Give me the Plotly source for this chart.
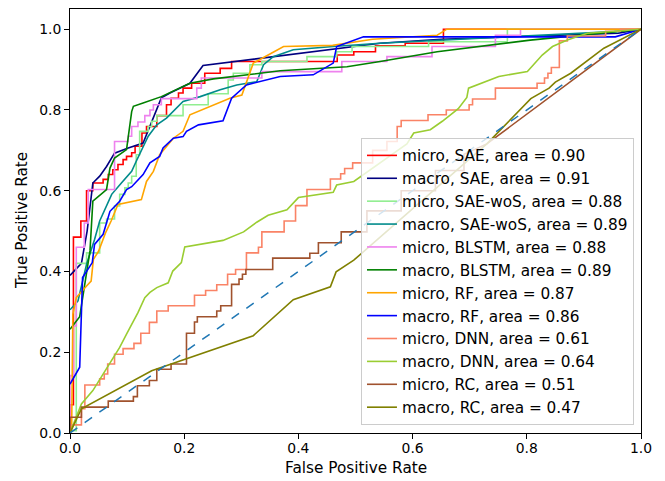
import plotly.graph_objects as go

# ---- micro (step) curves: corner points, drawn with 'vh' steps ----
fpr_micro_sae = [0, 0.006, 0.019, 0.029, 0.04, 0.058, 0.067, 0.075, 0.084, 0.093, 0.099, 0.108, 0.114, 0.126, 0.134,
                 0.152, 0.169, 0.177, 0.19, 0.198, 0.213, 0.236, 0.263, 0.283, 0.468, 0.497, 0.535, 0.587, 0.654, 1.0]
tpr_micro_sae = [0, 0.07, 0.485, 0.525, 0.6, 0.619, 0.628, 0.64, 0.652, 0.665, 0.677, 0.685, 0.694, 0.71, 0.743,
                 0.759, 0.786, 0.813, 0.829, 0.842, 0.854, 0.866, 0.891, 0.903, 0.92, 0.936, 0.944, 0.959, 0.965, 1.0]

fpr_micro_woS = [0, 0.011, 0.029, 0.052, 0.064, 0.078, 0.087, 0.096, 0.102, 0.108, 0.116, 0.122, 0.137, 0.143,
                 0.152, 0.198, 0.242, 0.277, 0.286, 0.315, 0.336, 0.415, 0.467, 0.494, 0.628, 0.766, 1.0]
tpr_micro_woS = [0, 0.006, 0.42, 0.446, 0.52, 0.53, 0.562, 0.591, 0.607, 0.619, 0.636, 0.689, 0.747, 0.759,
                 0.772, 0.786, 0.813, 0.84, 0.874, 0.891, 0.912, 0.92, 0.932, 0.944, 0.957, 0.969, 1.0]

fpr_micro_blstm = [0, 0.006, 0.011, 0.025, 0.032, 0.078, 0.102, 0.108, 0.119, 0.131, 0.14, 0.146, 0.16, 0.222,
                   0.23, 0.336, 0.476, 0.555, 0.634, 0.745, 0.789, 1.0]
tpr_micro_blstm = [0, 0.142, 0.265, 0.46, 0.52, 0.603, 0.722, 0.735, 0.759, 0.77, 0.786, 0.8, 0.813, 0.828,
                   0.854, 0.879, 0.895, 0.92, 0.932, 0.957, 0.985, 1.0]

fpr_micro_dnn = [0, 0.02, 0.026, 0.052, 0.06, 0.066, 0.078, 0.093, 0.112, 0.124, 0.139, 0.152, 0.172, 0.218, 0.2375,
                 0.257, 0.276, 0.29, 0.309, 0.33, 0.336, 0.375, 0.395, 0.415, 0.456, 0.474, 0.481, 0.495, 0.53, 0.555,
                 0.573, 0.58, 0.627, 0.659, 0.699, 0.705, 0.745, 0.818, 0.831, 0.837, 0.843, 0.857, 0.871, 0.938,
                 0.964, 1.0]
tpr_micro_dnn = [0, 0.02, 0.06, 0.119, 0.134, 0.146, 0.171, 0.195, 0.209, 0.222, 0.247, 0.274, 0.302, 0.315, 0.341,
                 0.353, 0.367, 0.393, 0.405, 0.446, 0.46, 0.498, 0.525, 0.563, 0.603, 0.629, 0.642, 0.655, 0.669, 0.70,
                 0.722, 0.759, 0.774, 0.788, 0.8, 0.813, 0.827, 0.854, 0.866, 0.879, 0.891, 0.905, 0.971, 0.983,
                 0.995, 1.0]

# micro RC: explicit corners (linear)
fpr_micro_rc = [0, 0, 0.02, 0.02, 0.067, 0.067, 0.111, 0.111, 0.118, 0.118, 0.139, 0.139, 0.152, 0.152, 0.177, 0.177,
                0.204, 0.204, 0.218, 0.218, 0.223, 0.223, 0.257, 0.257, 0.264, 0.264, 0.283, 0.283, 0.296, 0.296,
                0.302, 0.302, 0.308, 0.308, 0.355, 0.355, 0.42, 0.42, 0.435, 0.435, 0.475, 0.475, 0.52, 0.52,
                0.58, 0.58, 0.64, 0.64, 0.69, 0.69, 0.73, 1.0]
tpr_micro_rc = [0, 0.039, 0.039, 0.064, 0.064, 0.079, 0.079, 0.09, 0.09, 0.117, 0.117, 0.13, 0.13, 0.158, 0.158, 0.171,
                0.171, 0.247, 0.247, 0.275, 0.275, 0.288, 0.288, 0.302, 0.302, 0.315, 0.315, 0.368, 0.368, 0.381,
                0.381, 0.393, 0.393, 0.405, 0.405, 0.433, 0.433, 0.445, 0.445, 0.471, 0.471, 0.498, 0.498, 0.55,
                0.55, 0.6, 0.6, 0.65, 0.65, 0.69, 0.716, 1.0]

# ---- macro (interpolated) curves ----
fpr_macro_sae = [0, 0.02, 0.03, 0.04, 0.052, 0.064, 0.078, 0.102, 0.128, 0.14, 0.16, 0.175, 0.21, 0.233, 0.333,
                 0.543, 0.65, 0.96, 1.0]
tpr_macro_sae = [0.39, 0.42, 0.5, 0.619, 0.636, 0.66, 0.693, 0.706, 0.718, 0.759, 0.83, 0.842, 0.866, 0.91, 0.928,
                 0.965, 0.975, 0.99, 1.0]

fpr_macro_woS = [0, 0.014, 0.029, 0.043, 0.052, 0.073, 0.09, 0.108, 0.116, 0.125, 0.137, 0.152, 0.169, 0.198, 0.228,
                 0.263, 0.292, 0.327, 0.339, 0.356, 0.391, 0.461, 0.543, 0.953, 1.0]
tpr_macro_woS = [0.305, 0.327, 0.418, 0.479, 0.525, 0.591, 0.619, 0.648, 0.673, 0.698, 0.735, 0.763, 0.78, 0.821,
                 0.833, 0.85, 0.862, 0.87, 0.912, 0.932, 0.949, 0.957, 0.965, 0.994, 1.0]

fpr_macro_blstm = [0, 0.017, 0.035, 0.04, 0.064, 0.07, 0.078, 0.099, 0.108, 0.111, 0.128, 0.16, 0.21, 0.251, 0.368,
                   0.485, 0.543, 0.643, 0.806, 1.0]
tpr_macro_blstm = [0.257, 0.288, 0.451, 0.574, 0.603, 0.656, 0.681, 0.702, 0.796, 0.809, 0.817, 0.833, 0.866, 0.877,
                   0.897, 0.907, 0.92, 0.944, 0.973, 1.0]

fpr_micro_rf = [0, 0.003, 0.005, 0.011, 0.029, 0.037, 0.041, 0.05, 0.062, 0.072, 0.084, 0.125, 0.134, 0.146, 0.157,
                0.181, 0.198, 0.21, 0.28, 0.301, 0.321, 0.374, 0.46, 0.53, 0.643, 0.66, 1.0]
tpr_micro_rf = [0.0, 0.023, 0.294, 0.335, 0.364, 0.376, 0.43, 0.45, 0.495, 0.525, 0.566, 0.578, 0.623, 0.648, 0.689,
                0.73, 0.747, 0.788, 0.829, 0.837, 0.916, 0.957, 0.96, 0.975, 0.985, 1.0, 1.0]

fpr_macro_rf = [0, 0.017, 0.019, 0.022, 0.039, 0.043, 0.058, 0.07, 0.087, 0.099, 0.108, 0.128, 0.14, 0.157, 0.163,
                0.181, 0.198, 0.204, 0.225, 0.268, 0.283, 0.309, 0.368, 0.426, 0.461, 0.467, 0.514, 0.955, 1.0]
tpr_macro_rf = [0.121, 0.163, 0.253, 0.385, 0.422, 0.467, 0.492, 0.549, 0.574, 0.603, 0.61, 0.64, 0.669, 0.685, 0.706,
                0.73, 0.734, 0.747, 0.763, 0.773, 0.829, 0.862, 0.883, 0.887, 0.916, 0.957, 0.981, 0.981, 1.0]

fpr_macro_dnn = [0, 0.02, 0.04, 0.058, 0.07, 0.087, 0.099, 0.119, 0.131, 0.14, 0.152, 0.172, 0.18, 0.195, 0.201,
                 0.268, 0.304, 0.327, 0.347, 0.38, 0.4, 0.461, 0.467, 0.497, 0.59, 0.602, 0.631, 0.652, 0.68, 0.695,
                 0.698, 0.751, 0.801, 0.827, 0.845, 0.871, 0.906, 1.0]
tpr_macro_dnn = [0, 0.072, 0.105, 0.146, 0.171, 0.212, 0.245, 0.298, 0.335, 0.348, 0.36, 0.372, 0.401, 0.422, 0.461,
                 0.477, 0.498, 0.522, 0.539, 0.553, 0.583, 0.596, 0.614, 0.623, 0.716, 0.743, 0.751, 0.772, 0.803,
                 0.831, 0.854, 0.883, 0.895, 0.936, 0.957, 0.973, 0.99, 1.0]

fpr_macro_rc = [0, 0.02, 0.143, 0.321, 0.391, 0.456, 0.466, 0.497, 0.73, 0.807, 0.839, 0.85, 0.877, 0.935, 1.0]
tpr_macro_rc = [0, 0.06, 0.154, 0.241, 0.33, 0.362, 0.399, 0.428, 0.716, 0.828, 0.854, 0.869, 0.891, 0.953, 1.0]

labels = ["micro, SAE, area = 0.90", "macro, SAE, area = 0.91",
          "micro, SAE-woS, area = 0.88", "macro, SAE-woS, area = 0.89",
          "micro, BLSTM, area = 0.88", "macro, BLSTM, area = 0.89",
          "micro, RF, area = 0.87", "macro, RF, area = 0.86",
          "micro, DNN, area = 0.61", "macro, DNN, area = 0.64",
          "micro, RC, area = 0.51", "macro, RC, area = 0.47"]
colors = ["red", "navy", "lightgreen", "darkcyan", "violet", "green",
          "orange", "blue", "#fa8366", "yellowgreen", "sienna", "olive"]
series = [
    (fpr_micro_sae, tpr_micro_sae, "vh"), (fpr_macro_sae, tpr_macro_sae, "linear"),
    (fpr_micro_woS, tpr_micro_woS, "vh"), (fpr_macro_woS, tpr_macro_woS, "linear"),
    (fpr_micro_blstm, tpr_micro_blstm, "vh"), (fpr_macro_blstm, tpr_macro_blstm, "linear"),
    (fpr_micro_rf, tpr_micro_rf, "linear"), (fpr_macro_rf, tpr_macro_rf, "linear"),
    (fpr_micro_dnn, tpr_micro_dnn, "vh"), (fpr_macro_dnn, tpr_macro_dnn, "linear"),
    (fpr_micro_rc, tpr_micro_rc, "linear"), (fpr_macro_rc, tpr_macro_rc, "linear"),
]

fig = go.Figure()
for (fx, ty, shape), name, col in zip(series, labels, colors):
    fig.add_trace(go.Scatter(x=fx, y=ty, mode="lines", name=name,
                             line=dict(color=col, width=1.6, shape=shape)))

fig.add_trace(go.Scatter(x=[0, 1], y=[0, 1], mode="lines", showlegend=False,
                         line=dict(color="#1f77b4", width=1.5, dash="dash")))

tick_font = dict(family="DejaVu Sans", size=13.9, color="black")
label_font = dict(family="DejaVu Sans", size=15.3, color="black")
axis_common = dict(showline=True, mirror=True, linecolor="black", linewidth=1,
                   ticks="outside", ticklen=5, tickwidth=1, tickcolor="black",
                   showgrid=False, zeroline=False, tickformat=".1f", tickfont=tick_font,
                   dtick=0.2, tick0=0, automargin=False)
fig.update_layout(
    width=657, height=473,
    margin=dict(l=62, r=24, t=1, b=48),
    plot_bgcolor="white", paper_bgcolor="white",
    font=tick_font,
    xaxis=dict(range=[0, 1], ticklabelstandoff=-3, **axis_common),
    yaxis=dict(range=[0, 1.05], **axis_common),
    legend=dict(x=0.9877, y=0.019, xanchor="right", yanchor="bottom",
                bgcolor="rgba(255,255,255,0.8)", bordercolor="#cccccc", borderwidth=1,
                font=label_font, traceorder="normal"),
    showlegend=True,
    annotations=[
        dict(text="False Positive Rate", xref="paper", yref="paper", x=0.5, y=-0.083,
             xanchor="center", yanchor="middle", showarrow=False, font=label_font),
        dict(text="True Positive Rate", xref="paper", yref="paper", x=-0.084, y=0.5,
             xanchor="center", yanchor="middle", textangle=-90, showarrow=False, font=label_font),
    ],
)
fig.write_html("out.html")
